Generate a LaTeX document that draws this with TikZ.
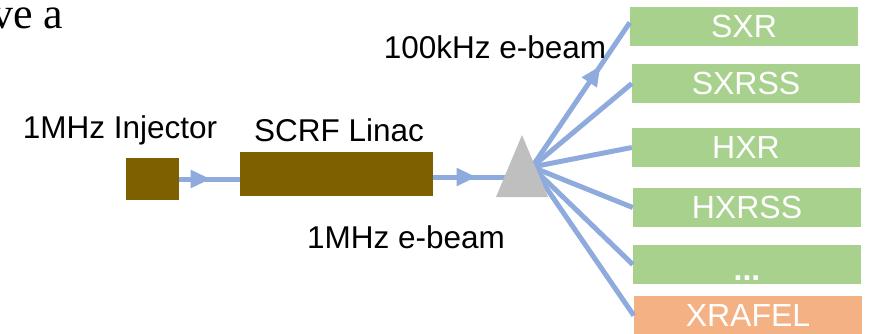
\documentclass[tikz,border=0pt]{standalone}
\usepackage{fontspec}
\setmainfont{Liberation Sans}
\newfontfamily\slideserif{Liberation Serif}
\usetikzlibrary{arrows.meta,decorations.markings}

\definecolor{linacbrown}{HTML}{7F6000}
\definecolor{beamblue}{HTML}{8FAADC}
\definecolor{felgreen}{HTML}{A9D18E}
\definecolor{felorange}{HTML}{F4B183}
\definecolor{splitgrey}{HTML}{BFBFBF}

\begin{document}
\begin{tikzpicture}[x=1pt,y=-1pt,
	beam/.style={draw=beamblue,line width=5pt},
	midarrow/.style={postaction={decorate},decoration={markings,
		mark=at position #1 with {\arrow{Triangle[length=20pt,width=17pt]}}}},
	box/.style={fill=linacbrown,inner sep=0pt},
	fel/.style={fill=felgreen,text=white,minimum width=228pt,minimum height=39pt,
		inner sep=0pt,font=\fontsize{32}{32}\selectfont},
	lbl/.style={font=\fontsize{31.5}{32}\selectfont}]
	\useasboundingbox (0,0) rectangle (874,333);

	% cut-off slide text
	\node[anchor=base west,inner sep=0pt,font=\slideserif\fontsize{44}{44}\selectfont] (slidetext) at (-9,28) {ve a};

	% injector and linac
	\node[box,minimum width=53pt,minimum height=42pt] (inj) at (152.5,179) {};
	\node[box,minimum width=193pt,minimum height=44pt] (linac) at (336.5,174) {};
	\node[lbl] (injlbl) at (120,130) {1MHz Injector};
	\node[lbl] (linaclbl) at (339,130) {SCRF Linac};

	% undulator lines
	\node[fel] (sxr) at (744,26.5) {SXR};
	\node[fel] (sxrss) at (746,83.5) {SXRSS};
	\node[fel] (hxr) at (746,147.5) {HXR};
	\node[fel] (hxrss) at (747,207.5) {HXRSS};
	\node[fel] (more) at (747,264.5) {};
	\node[text=white,font=\bfseries\fontsize{32}{32}\selectfont] (moredots) at ([yshift=-14pt]more.center) {...};
	\node[fel,fill=felorange] (xrafel) at (748,315.5) {XRAFEL};

	% beams
	\coordinate (hub) at (532,167);
	\coordinate (splitin) at (512,177);
	\draw[beam,midarrow=0.52] (inj.east) -- (inj.east -| linac.west);
	\draw[beam,midarrow=0.55] (linac.east |- splitin) -- (splitin);
	\draw[beam,midarrow=0.7] (hub) -- ([yshift=4pt]sxr.west);
	\foreach \n in {sxrss,hxr,hxrss,more,xrafel}
		\draw[beam] (hub) -- (\n.west);

	% splitter
	\fill[splitgrey] (496,197) -- (522,135) -- (548,197) -- cycle;

	\node[lbl] (fastlbl) at (495,47) {100kHz e-beam};
	\node[lbl] (slowlbl) at (406,237) {1MHz e-beam};
\end{tikzpicture}
\end{document}
